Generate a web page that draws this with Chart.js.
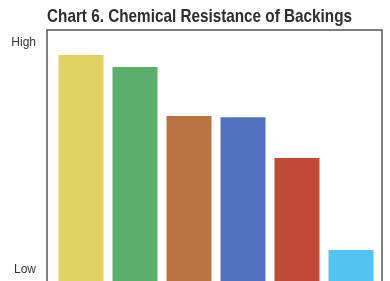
<!DOCTYPE html>
<html>
<head>
<meta charset="utf-8">
<script src="https://cdn.jsdelivr.net/npm/chart.js@4/dist/chart.umd.min.js"></script>
<style>
html,body{margin:0;padding:0;background:#fff;}
#wrap{width:390px;height:281px;}
</style>
</head>
<body>
<div id="wrap"><canvas id="c" width="390" height="281"></canvas></div>
<script>
const categories = ['Backing 1','Backing 2','Backing 3','Backing 4','Backing 5','Backing 6'];
const resistance = [90.0, 85.3, 65.7, 65.2, 49.0, 12.4];
const barColors = ['#e0d262','#5cae6c','#b77442','#5272bf','#bf4a36','#52c4f2'];
const yTickValues = [4.4, 94.8];
const yTickLabels = ['Low','High'];
const titleText = 'Chart 6. Chemical Resistance of Backings';

const boxPlugin = {
  id:'box',
  afterDraw(chart){
    const {ctx, chartArea:a} = chart;
    ctx.save();
    ctx.strokeStyle = '#555';
    ctx.lineWidth = 1.5;
    ctx.strokeRect(a.left-7, a.top, (a.right+4)-(a.left-7), a.bottom - a.top + 10);
    // condensed title, drawn as real text
    ctx.font = 'bold 19px "Liberation Sans", Arial, sans-serif';
    ctx.fillStyle = '#2e2e2e';
    ctx.textBaseline = 'alphabetic';
    ctx.textAlign = 'left';
    const w = ctx.measureText(titleText).width;
    const target = 305;
    const sx = target / w;
    ctx.translate(a.left - 7, 22);
    ctx.scale(sx, 1);
    ctx.fillText(titleText, 0, 0);
    ctx.restore();
  }
};

new Chart(document.getElementById('c'), {
  type:'bar',
  data:{
    labels: categories,
    datasets:[{data: resistance, backgroundColor: barColors, borderWidth:0,
      barPercentage:0.833, categoryPercentage:1}]
  },
  options:{
    responsive:false,
    animation:false,
    layout:{padding:{left:0,right:12,top:30,bottom:0}},
    plugins:{
      legend:{display:false},
      tooltip:{enabled:false},
      title:{display:false}
    },
    scales:{
      x:{display:false},
      y:{min:0,max:100,
        border:{display:false},
        grid:{display:false, drawTicks:false},
        afterFit(s){ s.width = 54; s.paddingTop = 0; s.paddingBottom = 0; },
        afterBuildTicks(s){ s.ticks = yTickValues.map(v=>({value:v})); },
        ticks:{padding:18, color:'#333',
          font:{family:'"Liberation Sans", Arial, sans-serif', size:12},
          callback:(v,i)=>yTickLabels[i]}
      }
    }
  },
  plugins:[boxPlugin]
});
</script>
</body>
</html>
